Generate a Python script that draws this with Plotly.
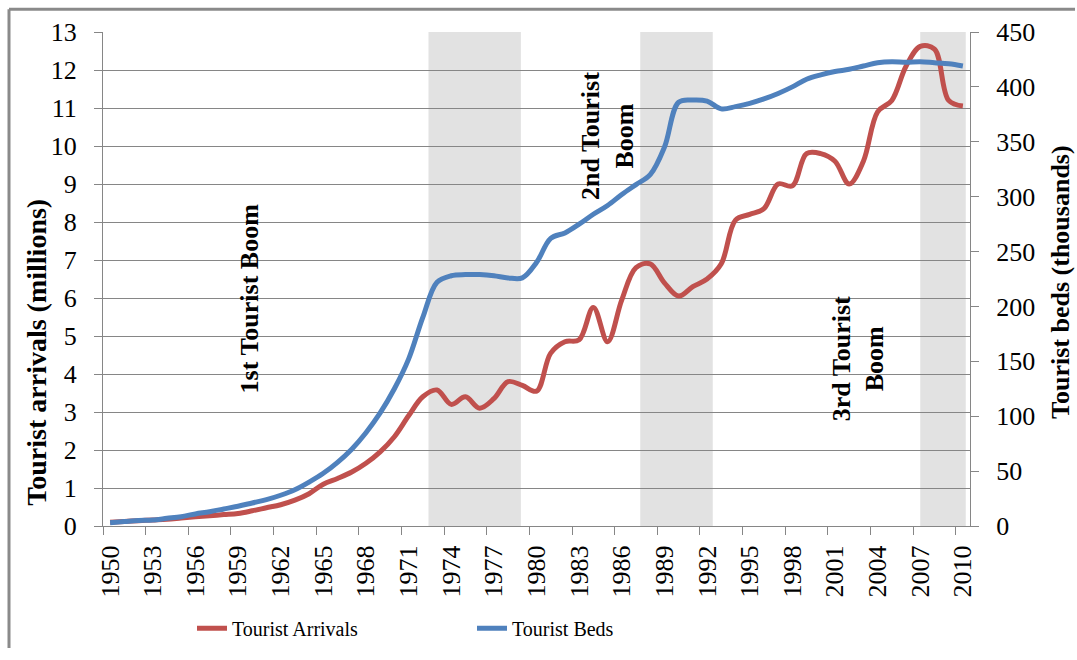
import plotly.graph_objects as go

years = list(range(1950, 2011))

arrivals = [0.10, 0.12, 0.14, 0.16, 0.18, 0.21, 0.24, 0.27, 0.30, 0.33,
            0.40, 0.48, 0.56, 0.68, 0.85, 1.10, 1.25, 1.42, 1.65, 1.95,
            2.35, 2.90, 3.40, 3.58, 3.20, 3.40, 3.10, 3.35, 3.80, 3.70,
            3.55, 4.55, 4.85, 4.90, 5.75, 4.85, 5.95, 6.80, 6.90, 6.40,
            6.05, 6.30, 6.50, 6.90, 8.05, 8.20, 8.35, 9.00, 8.95, 9.80,
            9.80, 9.60, 9.00, 9.60, 10.90, 11.20, 12.10, 12.62, 12.55, 11.20,
            11.05]

beds = [3, 4, 5, 5.5, 7, 8.5, 11, 13, 15.5, 18,
        21, 24, 28, 33, 40, 48, 58, 70, 85, 103,
        125, 152, 190, 222, 228, 229, 229, 228, 226, 226,
        240, 262, 267, 275, 284, 292, 302, 311, 320, 345,
        386, 388, 387, 380, 382, 385, 389, 394, 400, 407,
        411, 414, 416, 419, 422, 423, 422.5, 423, 422, 421,
        419]

label_years = list(range(1950, 2011, 3))
boundary_ticks = [y - 0.5 for y in label_years]

shade_start = [1972.4, 1987.3, 2007.0]
shade_end = [1978.9, 1992.4, 2010.2]

boom_labels = ["1st Tourist Boom", "2nd Tourist<br>Boom", "3rd Tourist<br>Boom"]
boom_x = [1959.8, 1985.0, 2002.65]
boom_y = [6.0, 10.25, 4.4]

RED = "#C0504D"
BLUE = "#4F81BD"
GRID = "#868686"
FONT = "Liberation Serif"

fig = go.Figure()
fig.add_trace(go.Scatter(x=years, y=arrivals, name="Tourist Arrivals", mode="lines",
                         line=dict(color=RED, width=5, shape="spline"),
                         xaxis="x", yaxis="y"))
fig.add_trace(go.Scatter(x=years, y=beds, name="Tourist Beds", mode="lines",
                         line=dict(color=BLUE, width=5, shape="spline"),
                         xaxis="x2", yaxis="y2"))

shapes = []
for s, e in zip(shade_start, shade_end):
    shapes.append(dict(type="rect", xref="x", yref="paper", x0=s, x1=e, y0=0, y1=1,
                       fillcolor="#e2e2e2", line=dict(width=0), layer="below"))

W, H = 1077, 660
L, R, T, B = 103, 970, 32, 534
def px(v):
    return (v - L) / (R - L)
def py(v):
    return (B - v) / (B - T)

shapes.append(dict(type="line", xref="paper", yref="paper", x0=px(9), x1=px(9),
                   y0=py(658), y1=py(9), line=dict(color="#8a8a8a", width=3)))
shapes.append(dict(type="line", xref="paper", yref="paper", x0=px(9), x1=px(1075),
                   y0=py(9), y1=py(9), line=dict(color="#8a8a8a", width=3)))

annotations = []
for t, xv, yv in zip(boom_labels, boom_x, boom_y):
    annotations.append(dict(text=t, x=xv, y=yv, xref="x", yref="y", showarrow=False,
                            textangle=-90, font=dict(family=FONT, size=26, color="black", weight="bold"),
                            align="center"))
annotations.append(dict(text="Tourist arrivals (millions)", x=px(37), y=py(358), xref="paper", yref="paper",
                        xanchor="center", yanchor="middle", showarrow=False, textangle=-90,
                        font=dict(family=FONT, size=28, color="black", weight="bold")))
annotations.append(dict(text="Tourist beds (thousands)", x=px(1061), y=py(286), xref="paper", yref="paper",
                        xanchor="center", yanchor="middle", showarrow=False, textangle=-90,
                        font=dict(family=FONT, size=26, color="black", weight="bold")))

tickfont = dict(family=FONT, size=26, color="black")

fig.update_layout(
    width=W, height=H,
    margin=dict(l=L, r=W - R, t=T, b=H - B, pad=0),
    paper_bgcolor="white", plot_bgcolor="white",
    shapes=shapes, annotations=annotations,
    showlegend=True,
    legend=dict(orientation="h", x=px(192), y=py(638), xanchor="left", yanchor="middle",
                entrywidth=235, entrywidthmode="pixels",
                font=dict(family=FONT, size=20, color="black"), bgcolor="rgba(0,0,0,0)"),
    xaxis=dict(range=[1949.5, 2010.5], tickmode="array", tickvals=label_years,
               ticktext=[str(y) for y in label_years], tickangle=-90, ticks="",
               showgrid=False, zeroline=False, showline=True, linecolor=GRID, linewidth=1,
               tickfont=tickfont, ticklabelstandoff=8),
    xaxis2=dict(range=[1949.5, 2010.5], overlaying="x", anchor="y", side="bottom",
                tickmode="array", tickvals=boundary_ticks, ticks="outside", ticklen=8,
                tickcolor=GRID, showticklabels=False, showgrid=False, zeroline=False,
                showline=False),
    yaxis=dict(range=[0, 13], tickmode="linear", tick0=0, dtick=1, showgrid=True,
               gridcolor=GRID, gridwidth=1, zeroline=False, showline=True, linecolor=GRID,
               ticks="outside", ticklen=8, tickcolor=GRID, tickfont=tickfont,
               ticklabelstandoff=12),
    yaxis2=dict(range=[0, 450], tickmode="linear", tick0=0, dtick=50, overlaying="y",
                side="right", anchor="x2", showgrid=False, zeroline=False, showline=True,
                linecolor=GRID, ticks="outside", ticklen=8, tickcolor=GRID, tickfont=tickfont,
                ticklabelstandoff=12),
)

post = (
    "var h=document.documentElement,b=document.body;"
    "[h,b].forEach(function(e){e.style.margin='0';e.style.padding='0';"
    "e.style.overflow='hidden';});"
)
fig.write_html("out.html", config={"displayModeBar": False}, post_script=post)
